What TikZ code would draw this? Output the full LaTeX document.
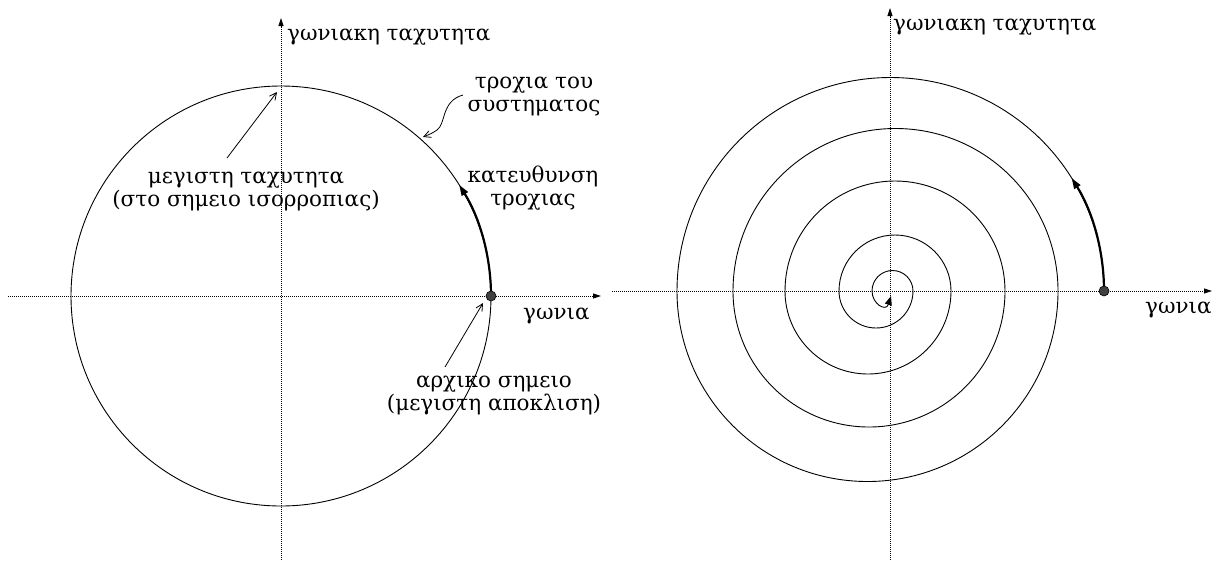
\documentclass[tikz,border=0pt]{standalone}
\usepackage{fontspec}
\setmainfont{DejaVu Serif}
\usetikzlibrary{arrows.meta}
\begin{document}
\begin{tikzpicture}[x=1pt,y=1pt,
  axisline/.style={line width=0.8pt, dash pattern=on 0.8pt off 1.2pt, -{Triangle[length=8pt,width=5pt]}},
  trajline/.style={line width=0.9pt},
  dirarrow/.style={line width=2.2pt, -{Triangle[length=11pt,width=7pt]}},
  ptrarrow/.style={line width=0.8pt, -{Straight Barb[length=7pt,width=7pt]}},
  lab/.style={font=\fontsize{21.5}{23}\selectfont, align=center, inner sep=0pt},
  dotnode/.style={circle, draw=black, fill=black!75, line width=0.6pt, minimum size=10pt, inner sep=0pt}
]
\useasboundingbox (0,0) rectangle (1214,-560);
% ---------- left diagram ----------
\coordinate (xs1) at (8,-296);
\coordinate (xe1) at (601,-296);
\coordinate (ys1) at (281,-560);
\coordinate (ye1) at (281,-18);
\coordinate (O1) at (281,-296);
\draw[axisline] (xs1) -- (xe1);
\draw[axisline] (ys1) -- (ye1);
\draw[trajline] (O1) circle[radius=210];
\draw[dirarrow] (491,-296) arc[start angle=0,end angle=32,radius=210];
\node[dotnode] (s1) at (491,-296) {};
\node[lab, anchor=base west] (yl1) at (287,-40) {γωνιακη ταχυτητα};
\node[lab, anchor=base] (tr1) at (534,-111) {τροχια του\\συστηματος};
\node[lab, anchor=base] (kt1) at (533,-205) {κατευθυνση\\τροχιας};
\node[lab, anchor=base] (mx1) at (246,-206) {μεγιστη ταχυτητα\\(στο σημειο ισορροπιας)};
\node[lab, anchor=base west] (xl1) at (523,-319) {γωνια};
\node[lab, anchor=base] (ar1) at (494,-410) {αρχικο σημειο\\(μεγιστη αποκλιση)};
\coordinate (mxt) at (227,-158);
\coordinate (top1) at (277,-92);
\draw[ptrarrow] (mxt) -- (top1);
\coordinate (trt) at (463,-95);
\coordinate (trh) at (423,-137);
\draw[ptrarrow] (trt) .. controls (441,-101) and (446,-124) .. (437,-130) .. controls (433,-133) and (428,-135) .. (trh);
\coordinate (art) at (445,-367);
\coordinate (arh) at (483,-303);
\draw[ptrarrow] (art) -- (arh);
% ---------- right diagram ----------
\coordinate (xs2) at (612,-291);
\coordinate (xe2) at (1212,-291);
\coordinate (ys2) at (890,-560);
\coordinate (ye2) at (890,-8);
\draw[axisline] (xs2) -- (xe2);
\draw[axisline] (ys2) -- (ye2);
\coordinate (sp0) at (1104,-291);
\coordinate (spend) at (891,-296);
\draw[trajline] (sp0)
  arc[start angle=0,end angle=180,radius=213.5]
  arc[start angle=180,end angle=360,radius=190.5]
  arc[start angle=0,end angle=180,radius=162.5]
  arc[start angle=180,end angle=360,radius=136]
  arc[start angle=0,end angle=180,radius=110]
  arc[start angle=180,end angle=360,radius=83]
  arc[start angle=0,end angle=180,radius=56]
  arc[start angle=180,end angle=360,radius=37]
  arc[start angle=0,end angle=180,radius=20.5] coordinate (spin);
\draw[trajline, -{Triangle[length=9pt,width=7pt]}] (spin) .. controls (872,-304) and (886,-312) .. (spend);
\draw[dirarrow] (sp0) arc[start angle=0,end angle=32,radius=213.5];
\node[dotnode] (s2) at (sp0) {};
\node[lab, anchor=base west] (yl2) at (893,-30) {γωνιακη ταχυτητα};
\node[lab, anchor=base west] (xl2) at (1145,-313) {γωνια};
\end{tikzpicture}
\end{document}
